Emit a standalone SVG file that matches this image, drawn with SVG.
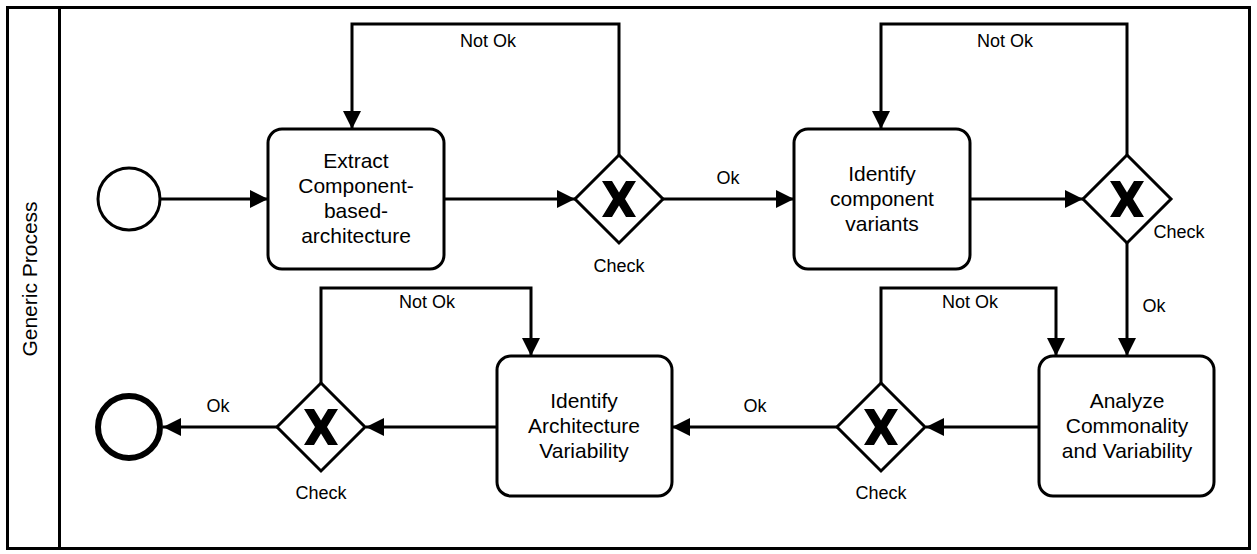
<svg xmlns="http://www.w3.org/2000/svg" width="1257" height="554" viewBox="0 0 1257 554">
  <style>
    .pool { fill: #ffffff; stroke: #000000; stroke-width: 3; }
    .task { fill: #ffffff; stroke: #000000; stroke-width: 3; }
    .gw { fill: #ffffff; stroke: #000000; stroke-width: 3; stroke-linejoin: miter; }
    .xmark { fill: #000000; stroke: none; }
    .flow { fill: none; stroke: #000000; stroke-width: 3; marker-end: url(#arrow); }
    .ttext { font-family: "Liberation Sans", Arial, sans-serif; font-size: 21px; fill: #000000; text-anchor: middle; }
    .label { font-family: "Liberation Sans", Arial, sans-serif; font-size: 18px; fill: #000000; text-anchor: middle; }
  </style>
  <defs>
    <marker id="arrow" markerUnits="userSpaceOnUse" markerWidth="20" markerHeight="20" viewBox="0 0 20 20" refX="18" refY="10" orient="auto">
      <path d="M0,1 L18,10 L0,19 Z" fill="#000000"/>
    </marker>
    <!-- exclusive gateway marker, centred on 0,0 -->
    <polygon id="xgate" class="xmark" points="-17,-18 -7,-18 0,-6.5 7,-18 17,-18 6,0 17,18 7,18 0,6.5 -7,18 -17,18 -6,0"/>
  </defs>

  <!-- pool with its lane header -->
  <g id="pool">
    <rect class="pool" x="7.5" y="7.5" width="1242" height="541"/>
    <line x1="59.5" y1="7.5" x2="59.5" y2="548.5" stroke="#000000" stroke-width="3"/>
    <text class="ttext" transform="translate(37,279) rotate(-90)">Generic Process</text>
  </g>

  <!-- sequence flows -->
  <g id="connectors">
    <path class="flow" d="M160,199 L268,199"/>
    <path class="flow" d="M444,199 L575,199"/>
    <path class="flow" d="M619,155 L619,24 L352,24 L352,129"/>
    <path class="flow" d="M663,199 L794,199"/>
    <path class="flow" d="M970,199 L1083,199"/>
    <path class="flow" d="M1127,155 L1127,24 L881,24 L881,129"/>
    <path class="flow" d="M1127,243 L1127,356"/>
    <path class="flow" d="M1039,427 L926,427"/>
    <path class="flow" d="M881,383 L881,288 L1056,288 L1056,356"/>
    <path class="flow" d="M837,427 L672,427"/>
    <path class="flow" d="M497,427 L366,427"/>
    <path class="flow" d="M321,383 L321,288 L531,288 L531,356"/>
    <path class="flow" d="M278,427 L163,427"/>
    <text class="label" x="488" y="47">Not Ok</text>
    <text class="label" x="728" y="184">Ok</text>
    <text class="label" x="1005" y="47">Not Ok</text>
    <text class="label" x="1154" y="312">Ok</text>
    <text class="label" x="970" y="308">Not Ok</text>
    <text class="label" x="755" y="412">Ok</text>
    <text class="label" x="427" y="308">Not Ok</text>
    <text class="label" x="218" y="412">Ok</text>
  </g>

  <g id="start">
    <circle cx="129" cy="199" r="31" fill="#ffffff" stroke="#000000" stroke-width="3"/>
  </g>

  <g id="task-extract">
    <rect class="task" x="268" y="129" width="176" height="140" rx="14"/>
    <text class="ttext" x="356" y="168">Extract</text>
    <text class="ttext" x="356" y="193">Component-</text>
    <text class="ttext" x="356" y="218">based-</text>
    <text class="ttext" x="356" y="243">architecture</text>
  </g>

  <g id="gw-check-1">
    <polygon class="gw" points="619,155 663,199 619,243 575,199"/>
    <use href="#xgate" x="619" y="199"/>
    <text class="label" x="619" y="272">Check</text>
  </g>

  <g id="task-variants">
    <rect class="task" x="794" y="129" width="176" height="140" rx="14"/>
    <text class="ttext" x="882" y="181">Identify</text>
    <text class="ttext" x="882" y="206">component</text>
    <text class="ttext" x="882" y="231">variants</text>
  </g>

  <g id="gw-check-2">
    <polygon class="gw" points="1127,155 1171,199 1127,243 1083,199"/>
    <use href="#xgate" x="1127" y="199"/>
    <text class="label" x="1179" y="238">Check</text>
  </g>

  <g id="task-analyze">
    <rect class="task" x="1039" y="356" width="175" height="140" rx="14"/>
    <text class="ttext" x="1127" y="408">Analyze</text>
    <text class="ttext" x="1127" y="433">Commonality</text>
    <text class="ttext" x="1127" y="458">and Variability</text>
  </g>

  <g id="gw-check-3">
    <polygon class="gw" points="881,383 925,427 881,471 837,427"/>
    <use href="#xgate" x="881" y="427"/>
    <text class="label" x="881" y="499">Check</text>
  </g>

  <g id="task-arch-variability">
    <rect class="task" x="497" y="356" width="175" height="140" rx="14"/>
    <text class="ttext" x="584" y="408">Identify</text>
    <text class="ttext" x="584" y="433">Architecture</text>
    <text class="ttext" x="584" y="458">Variability</text>
  </g>

  <g id="gw-check-4">
    <polygon class="gw" points="321,383 365,427 321,471 277,427"/>
    <use href="#xgate" x="321" y="427"/>
    <text class="label" x="321" y="499">Check</text>
  </g>

  <g id="end">
    <circle cx="129" cy="427" r="31" fill="#ffffff" stroke="#000000" stroke-width="6"/>
  </g>
</svg>
